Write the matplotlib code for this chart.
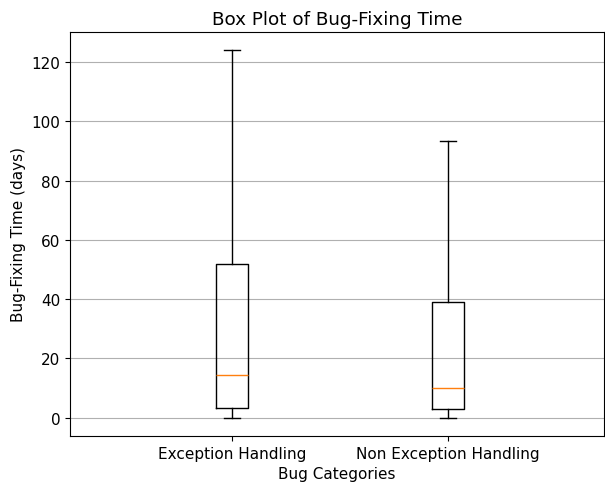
import matplotlib
matplotlib.use('Agg')
import matplotlib.pyplot as plt

# Box statistics (days)
categories = ['Exception Handling', 'Non Exception Handling']
whislo = [0, 0]
q1 = [3.3, 3.0]
med = [14.3, 10.0]
q3 = [51.9, 39.1]
whishi = [124.0, 93.4]

stats = []
for i, name in enumerate(categories):
    stats.append({'label': name, 'whislo': whislo[i], 'q1': q1[i], 'med': med[i],
                  'q3': q3[i], 'whishi': whishi[i], 'fliers': []})

fig = plt.figure(figsize=(6.05, 4.85), dpi=100)
ax = fig.add_axes([0.116, 0.099, 0.882, 0.833])

ax.bxp(stats, widths=0.15, showfliers=False)
ax.set_xlim(0.25, 2.72)
ax.yaxis.grid(True)
ax.set_axisbelow(True)

ax.set_title('Box Plot of Bug-Fixing Time', fontsize=13.2)
ax.set_xlabel('Bug Categories', fontsize=11)
ax.set_ylabel('Bug-Fixing Time (days)', fontsize=11)
ax.tick_params(labelsize=11)

fig.savefig('out.png', dpi=100)
